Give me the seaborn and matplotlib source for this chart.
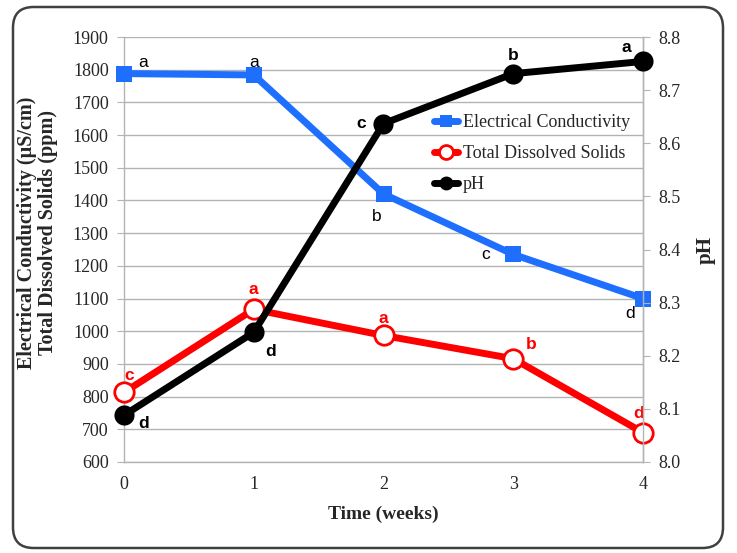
import pandas as pd
import seaborn as sns
import matplotlib.pyplot as plt
from matplotlib.patches import FancyBboxPatch
from matplotlib.lines import Line2D

weeks = [0, 1, 2, 3, 4]
ec = [1788, 1784, 1420, 1235, 1100]
tds = [813, 1067, 987, 916, 690]
ph = [8.088, 8.244, 8.637, 8.731, 8.754]
ec_letters = ['a', 'a', 'b', 'c', 'd']
tds_letters = ['c', 'a', 'a', 'b', 'd']
ph_letters = ['d', 'd', 'c', 'b', 'a']

df = pd.DataFrame({'week': weeks, 'ec': ec, 'tds': tds, 'ph': ph})

sns.set_style('white')
plt.rcParams['font.family'] = ['Liberation Serif', 'DejaVu Serif']

blue = '#1f6fff'
red = '#ff0000'
grid = '#b3b3b3'

fig = plt.figure(figsize=(7.37, 5.53), dpi=100)
# rounded frame around the whole chart
fig.patches.append(FancyBboxPatch((13 / 737, 5 / 553), 710 / 737, 541 / 553,
                                  boxstyle='round,pad=0,rounding_size=0.028',
                                  mutation_aspect=737 / 553,
                                  transform=fig.transFigure, fill=False,
                                  ec='#404040', lw=1.8))

ax = fig.add_axes([124 / 737, 1 - 462 / 553, 519 / 737, 425 / 553])
ax2 = ax.twinx()

sns.lineplot(data=df, x='week', y='ec', ax=ax, color=blue, lw=5, marker='s',
             markersize=11.5, markeredgewidth=0, clip_on=False, legend=False, zorder=4)
sns.lineplot(data=df, x='week', y='tds', ax=ax, color=red, lw=5, marker='o',
             markersize=14, markerfacecolor='white', markeredgecolor=red,
             markeredgewidth=2, clip_on=False, legend=False, zorder=3)
sns.lineplot(data=df, x='week', y='ph', ax=ax2, color='black', lw=5, marker='o',
             markersize=14.5, markeredgewidth=0, clip_on=False, legend=False, zorder=4)

ax.set_xlim(0, 4)
ax.set_ylim(600, 1900)
ax.set_yticks(range(600, 2000, 100))
ax.set_xticks(weeks)
ax2.set_ylim(8.0, 8.8)
ax2.set_yticks([8.0, 8.1, 8.2, 8.3, 8.4, 8.5, 8.6, 8.7, 8.8])
ax2.set_yticklabels(['8.0', '8.1', '8.2', '8.3', '8.4', '8.5', '8.6', '8.7', '8.8'])

ax.yaxis.grid(True, color=grid, lw=1)
ax.set_axisbelow(True)
for a in (ax, ax2):
    for s in a.spines.values():
        s.set_color(grid)
        s.set_linewidth(1)
    a.spines['top'].set_visible(False)
    a.tick_params(axis='both', length=5, color=grid, labelsize=13, pad=6)
ax2.spines['left'].set_visible(False)
ax2.spines['bottom'].set_visible(False)
ax.tick_params(axis='x', pad=5)

ax.set_xlabel('Time (weeks)', fontsize=14, fontweight='bold', labelpad=9)
ax.set_ylabel('Electrical Conductivity (\u00b5S/cm)\nTotal Dissolved Solids (ppm)',
              fontsize=14.5, fontweight='bold', linespacing=1.05)
ax.yaxis.set_label_coords(-0.127, 0.54)
ax2.set_ylabel('pH', fontsize=15, fontweight='bold', rotation=90, labelpad=11)

# significance letters
ec_off = [(14, 8), (0, 9), (-5, -16), (-20, 0), (-9, -11)]
tds_off = [(4, 12), (0, 14), (0, 12), (13, 10), (-3, 14)]
ph_off = [(14, -6), (12, -14), (-16, 0), (0, 13), (-12, 10)]
for i, w in enumerate(weeks):
    ax.annotate(ec_letters[i], (w, ec[i]), xytext=ec_off[i], textcoords='offset points',
                ha='center', va='center', fontsize=12.5, family='Liberation Sans', color='black')
    ax.annotate(tds_letters[i], (w, tds[i]), xytext=tds_off[i], textcoords='offset points',
                ha='center', va='center', fontsize=12.5, family='Liberation Sans',
                fontweight='bold', color=red)
    ax2.annotate(ph_letters[i], (w, ph[i]), xytext=ph_off[i], textcoords='offset points',
                 ha='center', va='center', fontsize=12.5, family='Liberation Sans',
                 fontweight='bold', color='black')

handles = [
    Line2D([], [], color=blue, lw=5, marker='s', markersize=9, markeredgewidth=0),
    Line2D([], [], color=red, lw=5, marker='o', markersize=10, markerfacecolor='white',
           markeredgecolor=red, markeredgewidth=2),
    Line2D([], [], color='black', lw=5, marker='o', markersize=10, markeredgewidth=0),
]
leg = ax2.legend(handles, ['Electrical Conductivity', 'Total Dissolved Solids', 'pH'],
                 loc='upper left', bbox_to_anchor=(0.58, 0.84), frameon=False,
                 fontsize=13, handlelength=1.3, handletextpad=0.3, labelspacing=0.78,
                 borderpad=0)

fig.savefig('out.png', dpi=100)
